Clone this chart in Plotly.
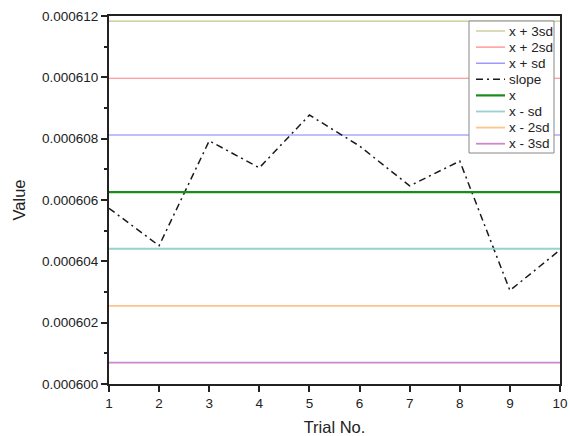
import plotly.graph_objects as go

trials = [1, 2, 3, 4, 5, 6, 7, 8, 9, 10]
slope = [0.00060573, 0.00060451, 0.00060793, 0.00060705, 0.00060877,
         0.00060776, 0.00060646, 0.00060727, 0.00060305, 0.00060437]

ref_names = ["x + 3sd", "x + 2sd", "x + sd", "x", "x - sd", "x - 2sd", "x - 3sd"]
ref_values = [0.00061183, 0.00060997, 0.00060812, 0.00060626, 0.00060441, 0.00060255, 0.00060070]
ref_colors = ["#c3c38a", "#ff8080", "#8080ff", "#1a8c1a", "#99d0d0", "#ffc48a", "#cc88cc"]
ref_widths = [1.2, 1.2, 1.2, 2.2, 1.8, 1.8, 1.8]

y_ticks = [0.000600, 0.000602, 0.000604, 0.000606, 0.000608, 0.000610, 0.000612]
y_ticklabels = ["0.000600", "0.000602", "0.000604", "0.000606", "0.000608", "0.000610", "0.000612"]

slope_style = dict(color="#1a1a1a", width=1.5, dash="7px,4px,2px,4px")

fig = go.Figure()

legend_entries = []  # (name, line dict) in legend order


def ref_trace(i):
    line = dict(color=ref_colors[i], width=ref_widths[i])
    legend_entries.append((ref_names[i], line))
    return go.Scatter(x=[trials[0], trials[-1]], y=[ref_values[i]] * 2, mode="lines",
                      name=ref_names[i], line=line, showlegend=False)


for i in range(3):
    fig.add_trace(ref_trace(i))
fig.add_trace(go.Scatter(x=trials, y=slope, mode="lines", name="slope",
                         line=slope_style, showlegend=False))
legend_entries.append(("slope", slope_style))
for i in range(3, 7):
    fig.add_trace(ref_trace(i))

font_family = "Liberation Sans, Arial, sans-serif"

W, H = 570, 436
ML, MR, MT, MB = 109, 10, 16, 52
PW, PH = W - ML - MR, H - MT - MB


def px(X):
    return (X - ML) / PW


def py(Y):
    return (H - MB - Y) / PH


# legend box (drawn as shapes/annotations to match the compact original spacing)
shapes = [dict(type="rect", xref="paper", yref="paper",
               x0=px(469), x1=px(554), y0=py(153), y1=py(21),
               line=dict(color="#888", width=1), fillcolor="white", layer="above")]
annotations = []
for k, (name, line) in enumerate(legend_entries):
    yc = 31 + k * 16.1
    shapes.append(dict(type="line", xref="paper", yref="paper",
                       x0=px(476), x1=px(505), y0=py(yc), y1=py(yc),
                       line=dict(color=line["color"], width=line["width"],
                                 dash=line.get("dash", "solid")),
                       layer="above"))
    annotations.append(dict(xref="paper", yref="paper", x=px(507), y=py(yc),
                            xanchor="left", yanchor="middle", showarrow=False,
                            text=name, font=dict(size=13.5, color="#222")))

fig.update_layout(
    width=W, height=H,
    margin=dict(l=ML, r=MR, t=MT, b=MB),
    paper_bgcolor="white", plot_bgcolor="white",
    font=dict(family=font_family, size=13.5, color="#222"),
    showlegend=False,
    shapes=shapes, annotations=annotations,
    xaxis=dict(range=[1, 10], tickvals=trials, ticks="outside", ticklen=6, tickwidth=1.5,
               tickcolor="#222", showgrid=False, zeroline=False, automargin=False,
               showline=True, linecolor="#222", linewidth=2, mirror=True,
               title=dict(text="Trial No.", font=dict(size=16.5), standoff=14),
               tickfont=dict(size=13.5)),
    yaxis=dict(range=[0.000600, 0.000612], tickvals=y_ticks, ticktext=y_ticklabels,
               ticks="outside", ticklen=6, tickwidth=1.5, tickcolor="#222",
               minor=dict(dtick=0.000001, ticks="outside", ticklen=3, tickwidth=1.5, tickcolor="#222"),
               showgrid=False, zeroline=False, automargin=False,
               showline=True, linecolor="#222", linewidth=2, mirror=True,
               title=dict(text="Value", font=dict(size=16.5), standoff=12),
               tickfont=dict(size=13.5)),
)

fig.write_html("out.html", config={"displayModeBar": False},
               post_script="document.body.style.margin='0';document.body.style.overflow='hidden';")
